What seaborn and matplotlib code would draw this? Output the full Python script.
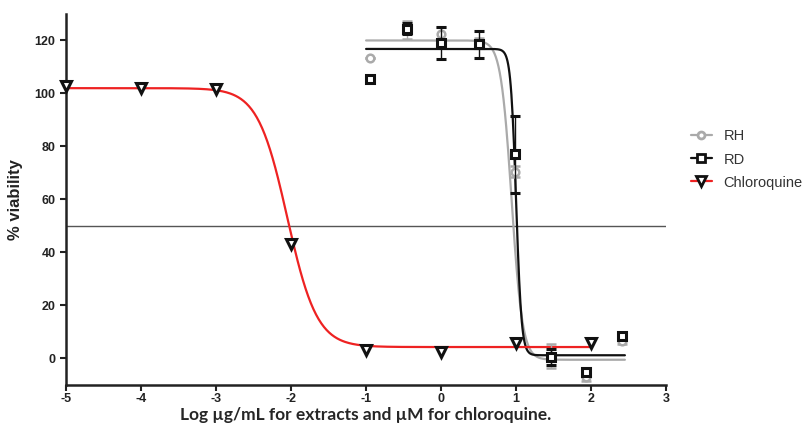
import numpy as np
import pandas as pd
import matplotlib
matplotlib.use("Agg")
import matplotlib.pyplot as plt
import seaborn as sns

# measured points
log_conc_ext = [-0.95, -0.45, 0.0, 0.5, 0.98, 1.46, 1.93, 2.41]
rh_viab = [113.5, 124.0, 122.5, 119.0, 70.5, 1.0, -7.0, 6.5]
rh_err = [0.0, 3.5, 2.5, 2.0, 2.0, 4.5, 1.5, 1.0]
rd_viab = [105.5, 124.5, 119.0, 118.5, 77.0, 0.5, -5.0, 8.5]
rd_err = [0.0, 2.0, 6.0, 5.0, 14.5, 3.0, 1.0, 1.0]

log_conc_cq = [-5, -4, -3, -2, -1, 0, 1, 2]
cq_viab = [103.0, 102.0, 101.5, 43.0, 3.2, 2.6, 6.0, 6.0]

# fitted 4PL parameters: top, bottom, logIC50, hill
fit_rh = (120.0, -0.5, 0.94, -6.0)
fit_rd = (116.8, 1.2, 1.0, -12.0)
fit_cq = (102.0, 4.3, -2.05, -2.2)


def hill(x, top, bottom, logic50, slope):
    return bottom + (top - bottom) / (1 + 10 ** ((logic50 - x) * slope))


sns.set_style("ticks")
plt.rcParams["font.family"] = ["Liberation Sans", "DejaVu Sans"]
plt.rcParams["axes.unicode_minus"] = False

fig = plt.figure(figsize=(8.11, 4.23), dpi=100)
ax = fig.add_axes([0.0814, 0.09, 0.740, 0.877])

x_ext = np.linspace(-1.0, 2.45, 400)
x_cq = np.linspace(-5.0, 2.0, 400)
curves = pd.concat([
    pd.DataFrame({"x": x_ext, "y": hill(x_ext, *fit_rh), "s": "RH"}),
    pd.DataFrame({"x": x_ext, "y": hill(x_ext, *fit_rd), "s": "RD"}),
    pd.DataFrame({"x": x_cq, "y": hill(x_cq, *fit_cq), "s": "Chloroquine"}),
])
pal = {"RH": "#aaaaaa", "RD": "#111111", "Chloroquine": "#ee2222"}

ax.axhline(50, color="#555555", lw=1.0, zorder=1)
sns.lineplot(data=curves, x="x", y="y", hue="s", palette=pal, lw=1.6,
             legend=False, ax=ax, zorder=2, sort=False)

ax.errorbar(log_conc_ext, rh_viab, yerr=rh_err, fmt="o", ms=5.5, mfc="white",
            mec="#aaaaaa", mew=1.8, ecolor="#aaaaaa", elinewidth=1, capsize=3.5,
            capthick=1, zorder=3)
ax.errorbar(log_conc_ext, rd_viab, yerr=rd_err, fmt="s", ms=6, mfc="white",
            mec="#111111", mew=2.2, ecolor="#111111", elinewidth=1, capsize=3.5,
            capthick=1, zorder=4)
ax.plot(log_conc_cq, cq_viab, "v", ms=6.5, mfc="white", mec="#111111", mew=2.2,
        zorder=5, clip_on=False)

# legend handles
h_rh = ax.errorbar([], [], fmt="-o", color="#aaaaaa", ms=5, mfc="white",
                   mec="#aaaaaa", mew=2, lw=1.6)
h_rd = ax.errorbar([], [], fmt="-s", color="#111111", ms=5.5, mfc="white",
                   mec="#111111", mew=2, lw=1.6)
h_cq, = ax.plot([], [], "-v", color="#ee2222", ms=6.5, mfc="white",
                mec="#111111", mew=2, lw=1.6)
ax.legend([h_rh, h_rd, h_cq], ["RH", "RD", "Chloroquine"], frameon=False,
          loc="upper left", bbox_to_anchor=(1.02, 0.724), fontsize=10.5,
          handlelength=1.4, labelspacing=0.62, labelcolor="#333333")

ax.set_xlim(-5, 3)
ax.set_ylim(-10, 130)
ax.set_xticks(range(-5, 4))
ax.set_yticks(range(0, 121, 20))
ax.tick_params(axis="both", labelsize=9, width=1.5, length=4, color="#222222",
               labelcolor="#222222")
ax.tick_params(axis="x", pad=2)
for lab in ax.get_xticklabels() + ax.get_yticklabels():
    lab.set_fontweight("bold")
sns.despine(ax=ax)
for sp in ("left", "bottom"):
    ax.spines[sp].set_linewidth(1.8)
    ax.spines[sp].set_color("#222222")

ax.set_ylabel("% viability", fontsize=12, fontweight="bold", color="#222222",
              labelpad=8)
ax.set_xlabel("Log \u00b5g/mL for extracts and \u00b5M for chloroquine.",
              fontsize=12.5, fontweight="bold", family=["Lato", "DejaVu Sans"],
              labelpad=1)

fig.savefig("out.png", dpi=100)
